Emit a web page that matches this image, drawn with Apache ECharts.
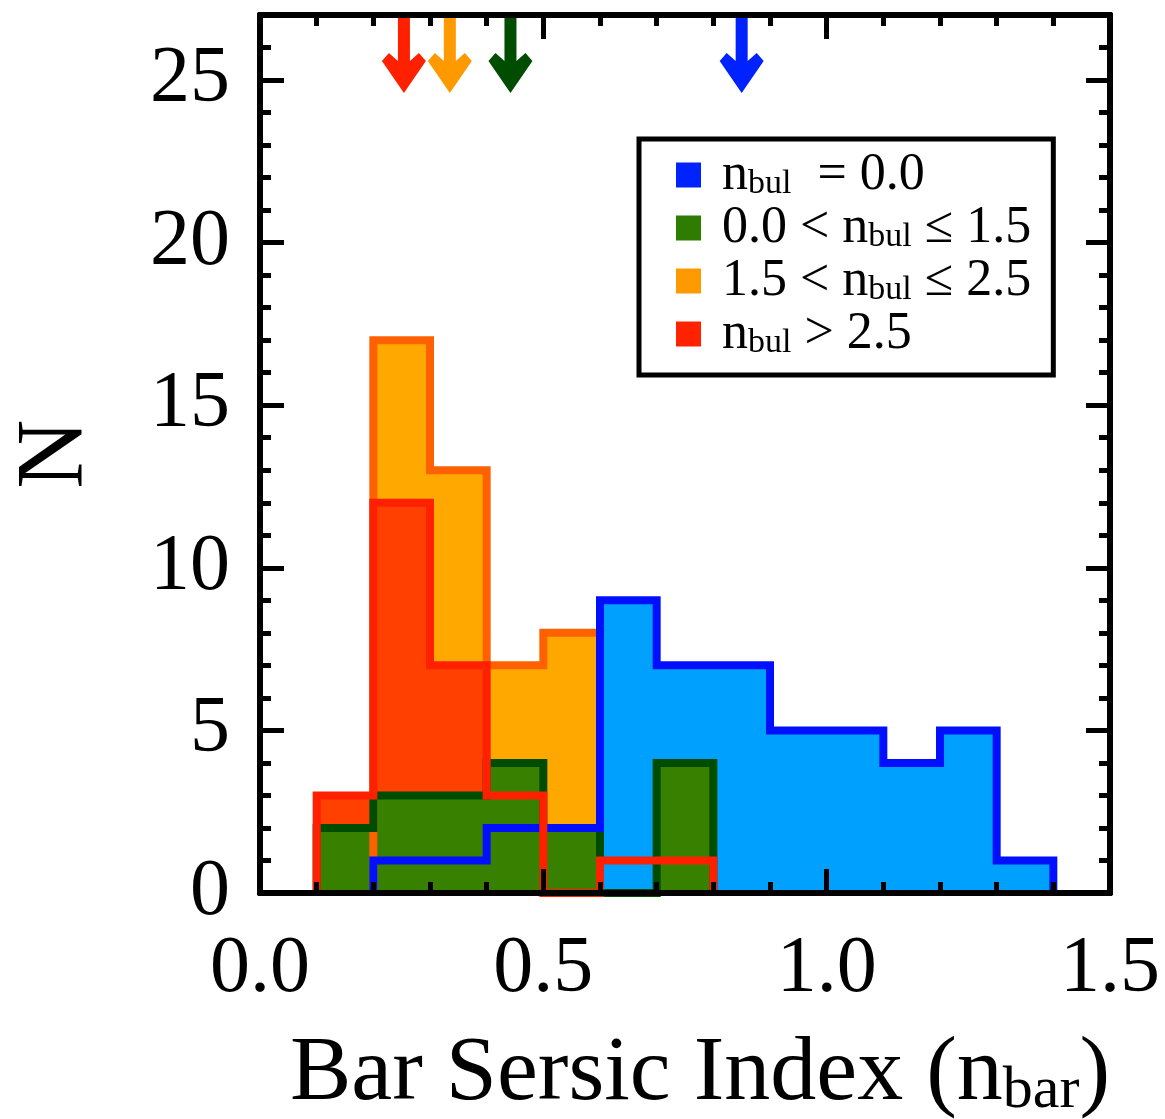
<!DOCTYPE html>
<html>
<head>
<meta charset="utf-8">
<title>Bar Sersic Index histogram</title>
<script src="https://cdn.jsdelivr.net/npm/echarts@6/dist/echarts.min.js"></script>
<style>
  html, body { margin: 0; padding: 0; background: #fff; }
  #chart { width: 1165px; height: 1119px; }
</style>
</head>
<body>
<div id="chart"></div>
<script>
// bin edges of the histograms (bar Sersic index)
const binEdges = [0.0, 0.1, 0.2, 0.3, 0.4, 0.5, 0.6, 0.7, 0.8, 0.9, 1.0, 1.1, 1.2, 1.3, 1.4, 1.5];
// counts per bin, one array per bulge group
const countsNoBulge = [0, 0, 1, 1, 2, 2, 9, 7, 7, 5, 5, 4, 5, 1, 0]; // n_bul = 0.0
const countsLowBulge = [0, 2, 3, 3, 4, 2, 0, 4, 0, 0, 0, 0, 0, 0, 0]; // 0.0 < n_bul <= 1.5
const countsMidBulge = [0, 0, 17, 13, 7, 8, 0, 0, 0, 0, 0, 0, 0, 0, 0]; // 1.5 < n_bul <= 2.5
const countsHighBulge = [0, 3, 12, 7, 3, 0, 1, 1, 0, 0, 0, 0, 0, 0, 0]; // n_bul > 2.5
// median of each group (arrows at the top): n_bul=0, low, mid, high
const medianValues = [0.850, 0.442, 0.335, 0.254];

const FONT = "Liberation Serif";
const ARROW_Y = 25.8;

// legend text with subscripts
const legendText = {
  g0: "{t|n}{s|bul}{t|  = 0.0}",
  g1: "{t|0.0 < n}{s|bul}{t| ≤ 1.5}",
  g2: "{t|1.5 < n}{s|bul}{t| ≤ 2.5}",
  g3: "{t|n}{s|bul}{t| > 2.5}",
};

// build the outline of a step histogram from edges + counts
function stepLine(counts) {
  const first = counts.findIndex((c) => c > 0);
  const last = counts.length - 1 - [...counts].reverse().findIndex((c) => c > 0);
  const pts = [[binEdges[first], 0]];
  for (let i = first; i <= last; i++) {
    pts.push([binEdges[i], counts[i]]);
    pts.push([binEdges[i + 1], counts[i]]);
  }
  pts.push([binEdges[last + 1], 0]);
  return pts;
}

// series sit below the axes (negative z) so the ticks show on top
function fillSeries(counts, color) {
  return {
    type: "line",
    z: -3,
    data: stepLine(counts),
    showSymbol: false,
    silent: true,
    lineStyle: { width: 0 },
    areaStyle: { color: color, opacity: 1 },
  };
}

function outlineSeries(name, counts, color) {
  return {
    name: name,
    type: "line",
    z: -2,
    data: stepLine(counts),
    showSymbol: false,
    silent: true,
    itemStyle: { color: color },
    lineStyle: { width: 8, color: color, join: "miter", cap: "butt" },
  };
}

const chart = echarts.init(document.getElementById("chart"));

function axisLine() {
  return { show: true, onZero: false, lineStyle: { color: "#000", width: 6 } };
}
function tick(len) {
  return { show: true, inside: true, length: len, lineStyle: { color: "#000", width: 5 } };
}

// major axes carry labels (long ticks), minor axes only short ticks
function yAxisBase(position, interval, len, withLabel) {
  return {
    type: "value",
    position: position,
    min: 0,
    max: 27,
    interval: interval,
    z: 10,
    axisLine: axisLine(),
    axisTick: tick(len),
    splitLine: { show: false },
    axisLabel: withLabel
      ? { show: true, fontFamily: FONT, fontSize: 80, color: "#000", margin: 30, showMaxLabel: false }
      : { show: false },
  };
}

function xAxisBase(position, interval, len, withLabel) {
  return {
    type: "value",
    position: position,
    min: 0,
    max: 1.5,
    interval: interval,
    z: 10,
    axisLine: axisLine(),
    axisTick: tick(len),
    splitLine: { show: false },
    axisLabel: withLabel
      ? { fontFamily: FONT, fontSize: 80, color: "#000", margin: 37, formatter: (v) => v.toFixed(1) }
      : { show: false },
  };
}

const option = {
  animation: false,
  backgroundColor: "#fff",
  grid: { left: 260, right: 55, top: 15, bottom: 226, outerBoundsMode: "none", containLabel: false },
  legend: {
    orient: "vertical",
    left: 639,
    top: 139,
    padding: [10, 22, 15, 37],
    borderColor: "#000",
    borderWidth: 5,
    itemWidth: 25,
    itemHeight: 25,
    itemGap: 1,
    icon: "rect",
    selectedMode: false,
    data: [
      { name: "g0", itemStyle: { color: "#0022FF", borderWidth: 0 } },
      { name: "g1", itemStyle: { color: "#2E7D00", borderWidth: 0 } },
      { name: "g2", itemStyle: { color: "#FF9900", borderWidth: 0 } },
      { name: "g3", itemStyle: { color: "#FF2200", borderWidth: 0 } },
    ],
    formatter: (name) => legendText[name],
    textStyle: {
      fontFamily: FONT,
      fontSize: 52,
      color: "#000",
      padding: [0, 0, 0, 16],
      rich: {
        t: { fontFamily: FONT, fontSize: 52, lineHeight: 52, color: "#000" },
        s: { fontFamily: FONT, fontSize: 34, lineHeight: 13, verticalAlign: "bottom", color: "#000" },
      },
    },
  },
  xAxis: [
    Object.assign(xAxisBase("bottom", 0.5, 24, true), {
      name: "{a|Bar Sersic Index (n}{b|bar}{a|)}",
      nameLocation: "middle",
      nameGap: 136,
      nameTextStyle: {
        padding: [0, 0, 0, 30],
        rich: {
          a: { fontFamily: FONT, fontSize: 92, lineHeight: 92, color: "#000" },
          b: { fontFamily: FONT, fontSize: 60, lineHeight: 30, verticalAlign: "bottom", color: "#000" },
        },
      },
    }),
    xAxisBase("bottom", 0.1, 11, false),
    xAxisBase("top", 0.5, 24, false),
    xAxisBase("top", 0.1, 11, false),
  ],
  yAxis: [
    Object.assign(yAxisBase("left", 5, 24, true), {
      name: "N",
      nameLocation: "middle",
      nameGap: 155,
      nameTextStyle: { fontFamily: FONT, fontSize: 96, color: "#000" },
    }),
    yAxisBase("left", 1, 11, false),
    yAxisBase("right", 5, 24, false),
    yAxisBase("right", 1, 11, false),
  ],
  series: [
    // fills first
    fillSeries(countsMidBulge, "#FFA800"),
    fillSeries(countsHighBulge, "#FF4000"),
    fillSeries(countsNoBulge, "#00A0FF"),
    fillSeries(countsLowBulge, "#388000"),
    // then outlines
    outlineSeries("g2", countsMidBulge, "#FF6000"),
    outlineSeries("g1", countsLowBulge, "#004C00"),
    outlineSeries("g0", countsNoBulge, "#0010FF"),
    outlineSeries("g3", countsHighBulge, "#FF2000"),
    // median arrows
    {
      type: "scatter",
      z: -1,
      silent: true,
      clip: false,
      symbol: "path://M16,0 L28,0 L28,46 L37,38 L44,46 L22,78 L0,46 L7,38 L16,46 Z",
      symbolSize: [44, 78],
      symbolKeepAspect: false,
      data: medianValues.map((v, i) => ({
        value: [v, ARROW_Y],
        itemStyle: { color: ["#0022FF", "#004C00", "#FF9900", "#FF2000"][i], opacity: 1 },
      })),
    },
  ],
};

chart.setOption(option);
</script>
</body>
</html>
